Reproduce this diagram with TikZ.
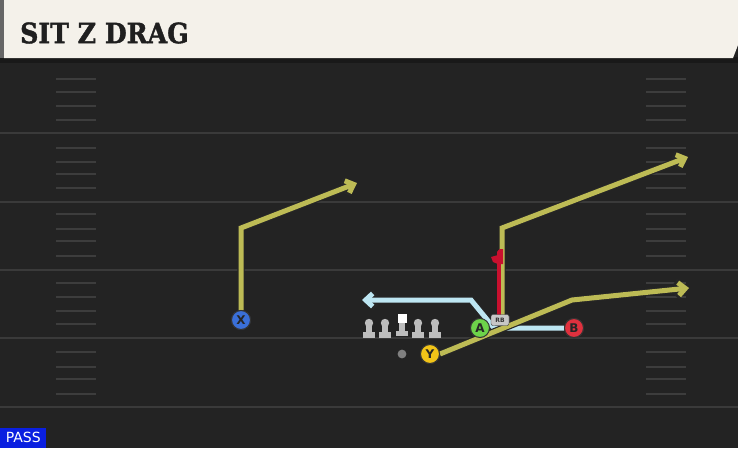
\documentclass[tikz,border=0pt]{standalone}
\usepackage{fontspec}
\setmainfont{DejaVu Sans}
\newfontfamily\titlefont{DejaVu Serif}[FakeBold=1.5]
\usetikzlibrary{arrows.meta}
\definecolor{fieldbg}{HTML}{232323}
\definecolor{yardline}{HTML}{3A3A3A}
\definecolor{hashc}{HTML}{3D3D3D}
\definecolor{cream}{HTML}{F4F1EA}
\definecolor{routey}{HTML}{BDBB55}
\definecolor{routeb}{HTML}{BDE6F2}
\definecolor{blockr}{HTML}{C8102E}
\definecolor{olgray}{HTML}{BDBDBD}
\definecolor{passblue}{HTML}{0A1FE0}
\definecolor{cx}{HTML}{3A6FD8}
\definecolor{ca}{HTML}{6DD34A}
\definecolor{cb}{HTML}{E0313E}
\definecolor{cy}{HTML}{F2C418}
\tikzset{
  yard/.style={yardline, line width=2pt},
  hashmark/.style={hashc, line width=1.6pt},
  routeout/.style={black!85, line width=7.4pt, line join=miter, -{Straight Barb[length=8pt,width=15pt,line width=7.4pt]}},
  routeline/.style={line width=5pt, line join=miter, -{Straight Barb[length=7pt,width=13pt,line width=5pt]}},
  player/.style={circle, draw=black!80, line width=1pt, minimum size=19pt, inner sep=0pt, font=\bfseries\fontsize{12}{12}\selectfont, text=black!85},
  rbbox/.style={draw=black!80, fill=olgray!85, rounded corners=2pt, inner sep=1pt, minimum width=18pt, minimum height=11pt, font=\bfseries\fontsize{6}{6}\selectfont, text=black!80},
}
\begin{document}
\begin{tikzpicture}[x=1pt,y=-1pt]
\useasboundingbox (0,0) rectangle (738,448);
% field
\fill[fieldbg] (0,0) rectangle (738,448);
% yard lines
\foreach \yy in {133,202,270,338,407} \draw[yard] (0,\yy) -- (738,\yy);
% hashes
\foreach \yy in {79,92,106,120,148,162,174,188,214,229,241,256,283,297,311,324,352,367,379,394} {
  \draw[hashmark] (56,\yy) -- (96,\yy);
  \draw[hashmark] (646,\yy) -- (686,\yy);
}
% header
\fill[black!90] (0,57) rectangle (738,63);
\fill[black!60] (0,0) rectangle (5,58);
\fill[cream] (4,0) -- (738,0) -- (738,45) -- (733,58) -- (4,58) -- cycle;
\node[anchor=west, inner sep=0pt, font=\titlefont\bfseries\fontsize{28}{28}\selectfont, text=black!88] (title) at (20,33) {\scalebox{0.9}[1]{SIT Z DRAG}};
% PASS label
\node[anchor=south west, fill=passblue, text=white, inner sep=0pt, minimum width=46pt, minimum height=20pt, font=\fontsize{14}{14}\selectfont] (pass) at (0,448) {PASS};

% players
\node[player, fill=cx] (X) at (241,320) {X};
\node[player, fill=ca] (A) at (480,328) {A};
\node[player, fill=cb] (B) at (574,328) {B};
\node[player, fill=cy] (Y) at (430,354) {Y};
\node[rbbox] (RB) at (500,320) {RB};

% route coordinates
\coordinate (x1) at (241,228);
\coordinate (x2) at (357,183);
\coordinate (y1) at (572,300);
\coordinate (y2) at (689,288);
\coordinate (r0) at (502,315);
\coordinate (r1) at (502,228);
\coordinate (r2) at (688,157);
\coordinate (b1) at (494,328);
\coordinate (b2) at (471,300);
\coordinate (b3) at (362,300);
\coordinate (k0) at (499,315);
\coordinate (k1) at (499,258);

% X route
\draw[routeout] (X.north) -- (x1) -- (x2);
\draw[routeline, routey] (X.north) -- (x1) -- (x2);
% B drag route
\draw[routeout] (B.west) -- (b1) -- (b2) -- (b3);
\draw[routeline, routeb] (B.west) -- (b1) -- (b2) -- (b3);
% RB route
\draw[routeout] (r0) -- (r1) -- (r2);
\draw[routeline, routey] (r0) -- (r1) -- (r2);
% Y route
\draw[routeout] (Y.east) -- (y1) -- (y2);
\draw[routeline, routey] (Y.east) -- (y1) -- (y2);
% RB block
\draw[blockr, line width=4pt] (k0) -- (k1);
\fill[blockr] (497,264) -- (497,252) .. controls (499,249) and (501,248) .. (503,249) -- (503,264) -- cycle;
\fill[blockr] (498,255) -- (491,257) -- (493,262) -- (498,264) -- cycle;

% redraw player markers on top
\node[player, fill=cx] at (X) {X};
\node[player, fill=ca] at (A) {A};
\node[player, fill=cb] at (B) {B};
\node[player, fill=cy] at (Y) {Y};
\node[rbbox] at (RB) {RB};

% offensive line
\foreach \xx/\nm in {369/lt,385/lg,418/rg,435/rt} {
  \fill[olgray] (\xx,323) circle (4.2);
  \fill[olgray] (\xx-2.8,323) rectangle (\xx+2.8,333);
  \fill[olgray] (\xx-5.8,332) rectangle (\xx+5.8,338);
  \coordinate (\nm) at (\xx,330);
}
\fill[white] (397.5,314) rectangle (406.5,323);
\fill[olgray] (399.3,323) rectangle (404.7,332);
\fill[olgray] (396,331) rectangle (408,336);
\coordinate (C) at (402,325);
\fill[black!50] (402,354) circle (4.4);
\coordinate (QB) at (402,354);
\end{tikzpicture}
\end{document}
